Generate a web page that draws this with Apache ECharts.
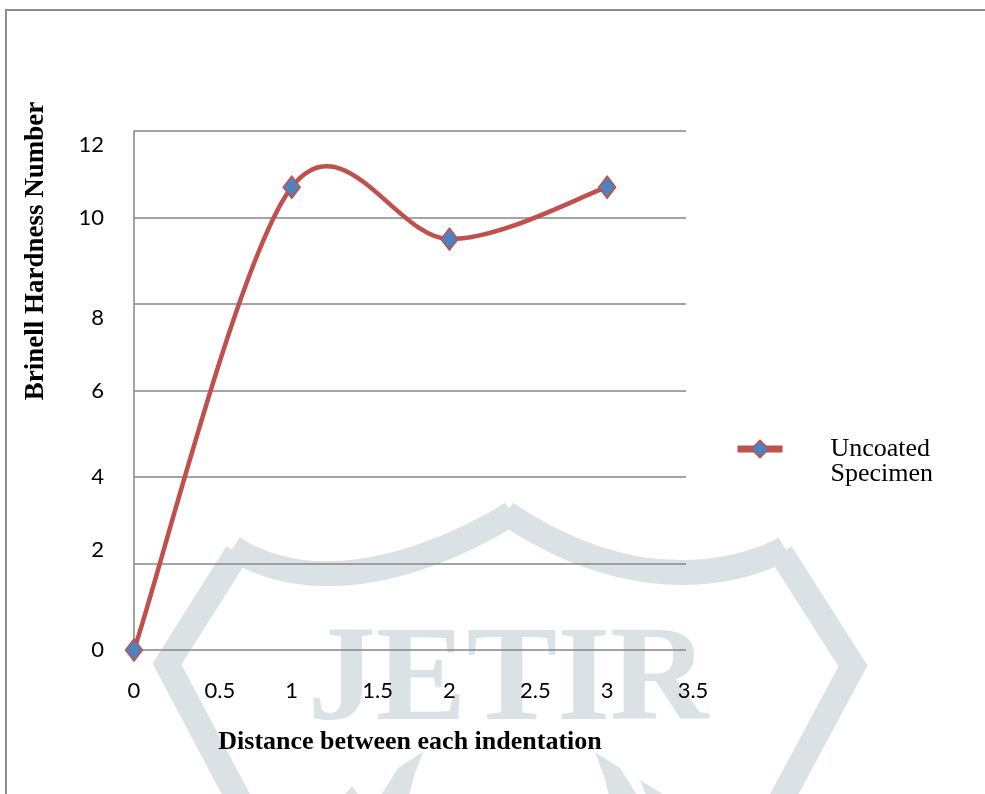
<!DOCTYPE html>
<html>
<head>
<meta charset="utf-8">
<title>Brinell Hardness Number</title>
<script src="https://cdn.jsdelivr.net/npm/echarts@6/dist/echarts.min.js"></script>
<style>
  html, body { margin: 0; padding: 0; background: #fff; }
  #chart { width: 985px; height: 794px; }
</style>
</head>
<body>
<div id="chart"></div>
<script>
// Indentation positions and measured hardness
const distances = [0, 1, 2, 3];
const hardness = [0, 10.7, 9.5, 10.7];
const seriesName = 'Uncoated Specimen';
const xTickMax = 3.5;
const yTickMax = 12;

const RED = '#c0504d';
const BLUE = '#4f81bd';
const GRID = '#868686';
const MARK = '#dae2e6';
const LABEL_FONT = { fontFamily: 'Lato', fontSize: 22, color: '#000' };

const points = distances.map((d, i) => [d, hardness[i]]);

// Cardinal spline segment (tension 1/6) between point i-1 and i, in pixel space
function renderSegment(params, api) {
  const i = params.dataIndex;
  if (i === 0) return null;
  const n = points.length;
  const at = k => api.coord(points[Math.max(0, Math.min(n - 1, k))]);
  const p0 = at(i - 2), p1 = at(i - 1), p2 = at(i), p3 = at(i + 1);
  return {
    type: 'bezierCurve',
    shape: {
      x1: p1[0], y1: p1[1],
      x2: p2[0], y2: p2[1],
      cpx1: p1[0] + (p2[0] - p0[0]) / 6,
      cpy1: p1[1] + (p2[1] - p0[1]) / 6,
      cpx2: p2[0] - (p3[0] - p1[0]) / 6,
      cpy2: p2[1] - (p3[1] - p1[1]) / 6
    },
    style: { stroke: RED, lineWidth: 4.5, fill: null, lineCap: 'round' }
  };
}

// y tick labels sit slightly off their gridlines in this layout
function yLabel(v) {
  if (v === 12 || v === 8) return '{dn|' + v + '}';
  if (v === 2) return '{up|' + v + '}';
  return '{n|' + v + '}';
}
function xLabel(v) {
  return Number.isInteger(v) ? '{n|' + v + '}' : '{r|' + v + '}';
}

const chart = echarts.init(document.getElementById('chart'), null, { renderer: 'canvas' });

const option = {
  animation: false,
  backgroundColor: '#fff',
  grid: { left: 134, right: 299, top: 131, bottom: 144, containLabel: false },
  xAxis: {
    type: 'value',
    min: 0,
    max: xTickMax,
    interval: 0.5,
    name: 'Distance between each indentation',
    nameLocation: 'middle',
    nameGap: 79,
    nameTextStyle: { fontFamily: 'Liberation Serif', fontWeight: 'bold', fontSize: 26, color: '#000' },
    axisLine: { show: false },
    axisTick: { show: false },
    splitLine: { show: false },
    axisLabel: Object.assign({}, LABEL_FONT, {
      margin: 30,
      formatter: xLabel,
      rich: {
        n: Object.assign({}, LABEL_FONT),
        r: Object.assign({}, LABEL_FONT, { padding: [0, 0, 0, 14] })
      }
    })
  },
  yAxis: {
    type: 'value',
    min: 0,
    max: yTickMax,
    interval: 2,
    axisLine: { show: true, lineStyle: { color: GRID, width: 1.5 } },
    axisTick: { show: false },
    splitLine: { show: true, lineStyle: { color: GRID, width: 1.5 } },
    axisLabel: Object.assign({}, LABEL_FONT, {
      margin: 30,
      formatter: yLabel,
      rich: {
        n: Object.assign({}, LABEL_FONT),
        dn: Object.assign({}, LABEL_FONT, { padding: [28, 0, 0, 0] }),
        up: Object.assign({}, LABEL_FONT, { padding: [0, 0, 28, 0] })
      }
    })
  },
  legend: {
    left: 734,
    top: 411,
    padding: 0,
    itemWidth: 45,
    itemHeight: 22,
    // leading blank line drops the two text lines below the marker
    formatter: name => '\n' + name.replace(' ', '\n'),
    textStyle: {
      fontFamily: 'Liberation Serif', fontSize: 26, lineHeight: 25, color: '#000',
      padding: [0, 0, 0, 43]
    },
    data: [{
      name: seriesName,
      lineStyle: { color: RED, width: 7, opacity: 1 },
      itemStyle: { color: BLUE, borderColor: RED, borderWidth: 1.5 }
    }]
  },
  graphic: [
    // page frame
    { type: 'rect', z: -20, shape: { x: 6, y: 10, width: 1000, height: 800 },
      style: { fill: null, stroke: '#8c8c8c', lineWidth: 2 } },
    // journal mark behind the plot
    { type: 'polyline', z: -10, shape: { points: [[237, 553], [167, 664], [240, 802]] },
      style: { stroke: MARK, lineWidth: 25, fill: null, lineJoin: 'miter' } },
    { type: 'polyline', z: -10, shape: { points: [[781, 553], [853, 666], [780, 802]] },
      style: { stroke: MARK, lineWidth: 25, fill: null, lineJoin: 'miter' } },
    { type: 'bezierCurve', z: -10,
      shape: { x1: 233, y1: 548, cpx1: 350, cpy1: 622, x2: 512, y2: 513, cpx2: 512, cpy2: 513 },
      style: { stroke: MARK, lineWidth: 25, fill: null } },
    { type: 'bezierCurve', z: -10,
      shape: { x1: 506, y1: 513, cpx1: 668, cpy1: 622, x2: 785, y2: 548, cpx2: 785, cpy2: 548 },
      style: { stroke: MARK, lineWidth: 25, fill: null } },
    { type: 'polygon', z: -10, shape: { points: [[423, 752], [398, 768], [378, 800], [408, 800], [414, 776]] },
      style: { fill: MARK } },
    { type: 'polygon', z: -10, shape: { points: [[352, 786], [340, 800], [362, 800]] },
      style: { fill: MARK } },
    { type: 'polygon', z: -10, shape: { points: [[595, 752], [620, 768], [640, 800], [610, 800], [604, 776]] },
      style: { fill: MARK } },
    { type: 'polygon', z: -10, shape: { points: [[640, 780], [672, 800], [648, 800]] },
      style: { fill: MARK } },
    { type: 'text', z: -10, x: 508, y: 684,
      style: { text: 'JETIR', fontFamily: 'Liberation Serif', fontWeight: 'bold', fontSize: 136,
               fill: MARK, align: 'center', verticalAlign: 'middle' } },
    // y axis title
    { type: 'text', x: 36, y: 251, rotation: Math.PI / 2,
      style: { text: 'Brinell Hardness Number', fontFamily: 'Liberation Serif', fontWeight: 'bold',
               fontSize: 27, fill: '#000', align: 'center', verticalAlign: 'middle' } }
  ],
  series: [
    {
      name: seriesName,
      type: 'line',
      data: points,
      z: 4,
      symbol: 'diamond',
      symbolSize: [17, 22],
      showAllSymbol: true,
      lineStyle: { opacity: 0, color: RED },
      itemStyle: { color: BLUE, borderColor: RED, borderWidth: 1.5 },
      emphasis: { disabled: true }
    },
    {
      name: seriesName,
      type: 'custom',
      data: points,
      encode: { x: 0, y: 1 },
      z: 3,
      renderItem: renderSegment
    }
  ]
};

chart.setOption(option);
</script>
</body>
</html>
